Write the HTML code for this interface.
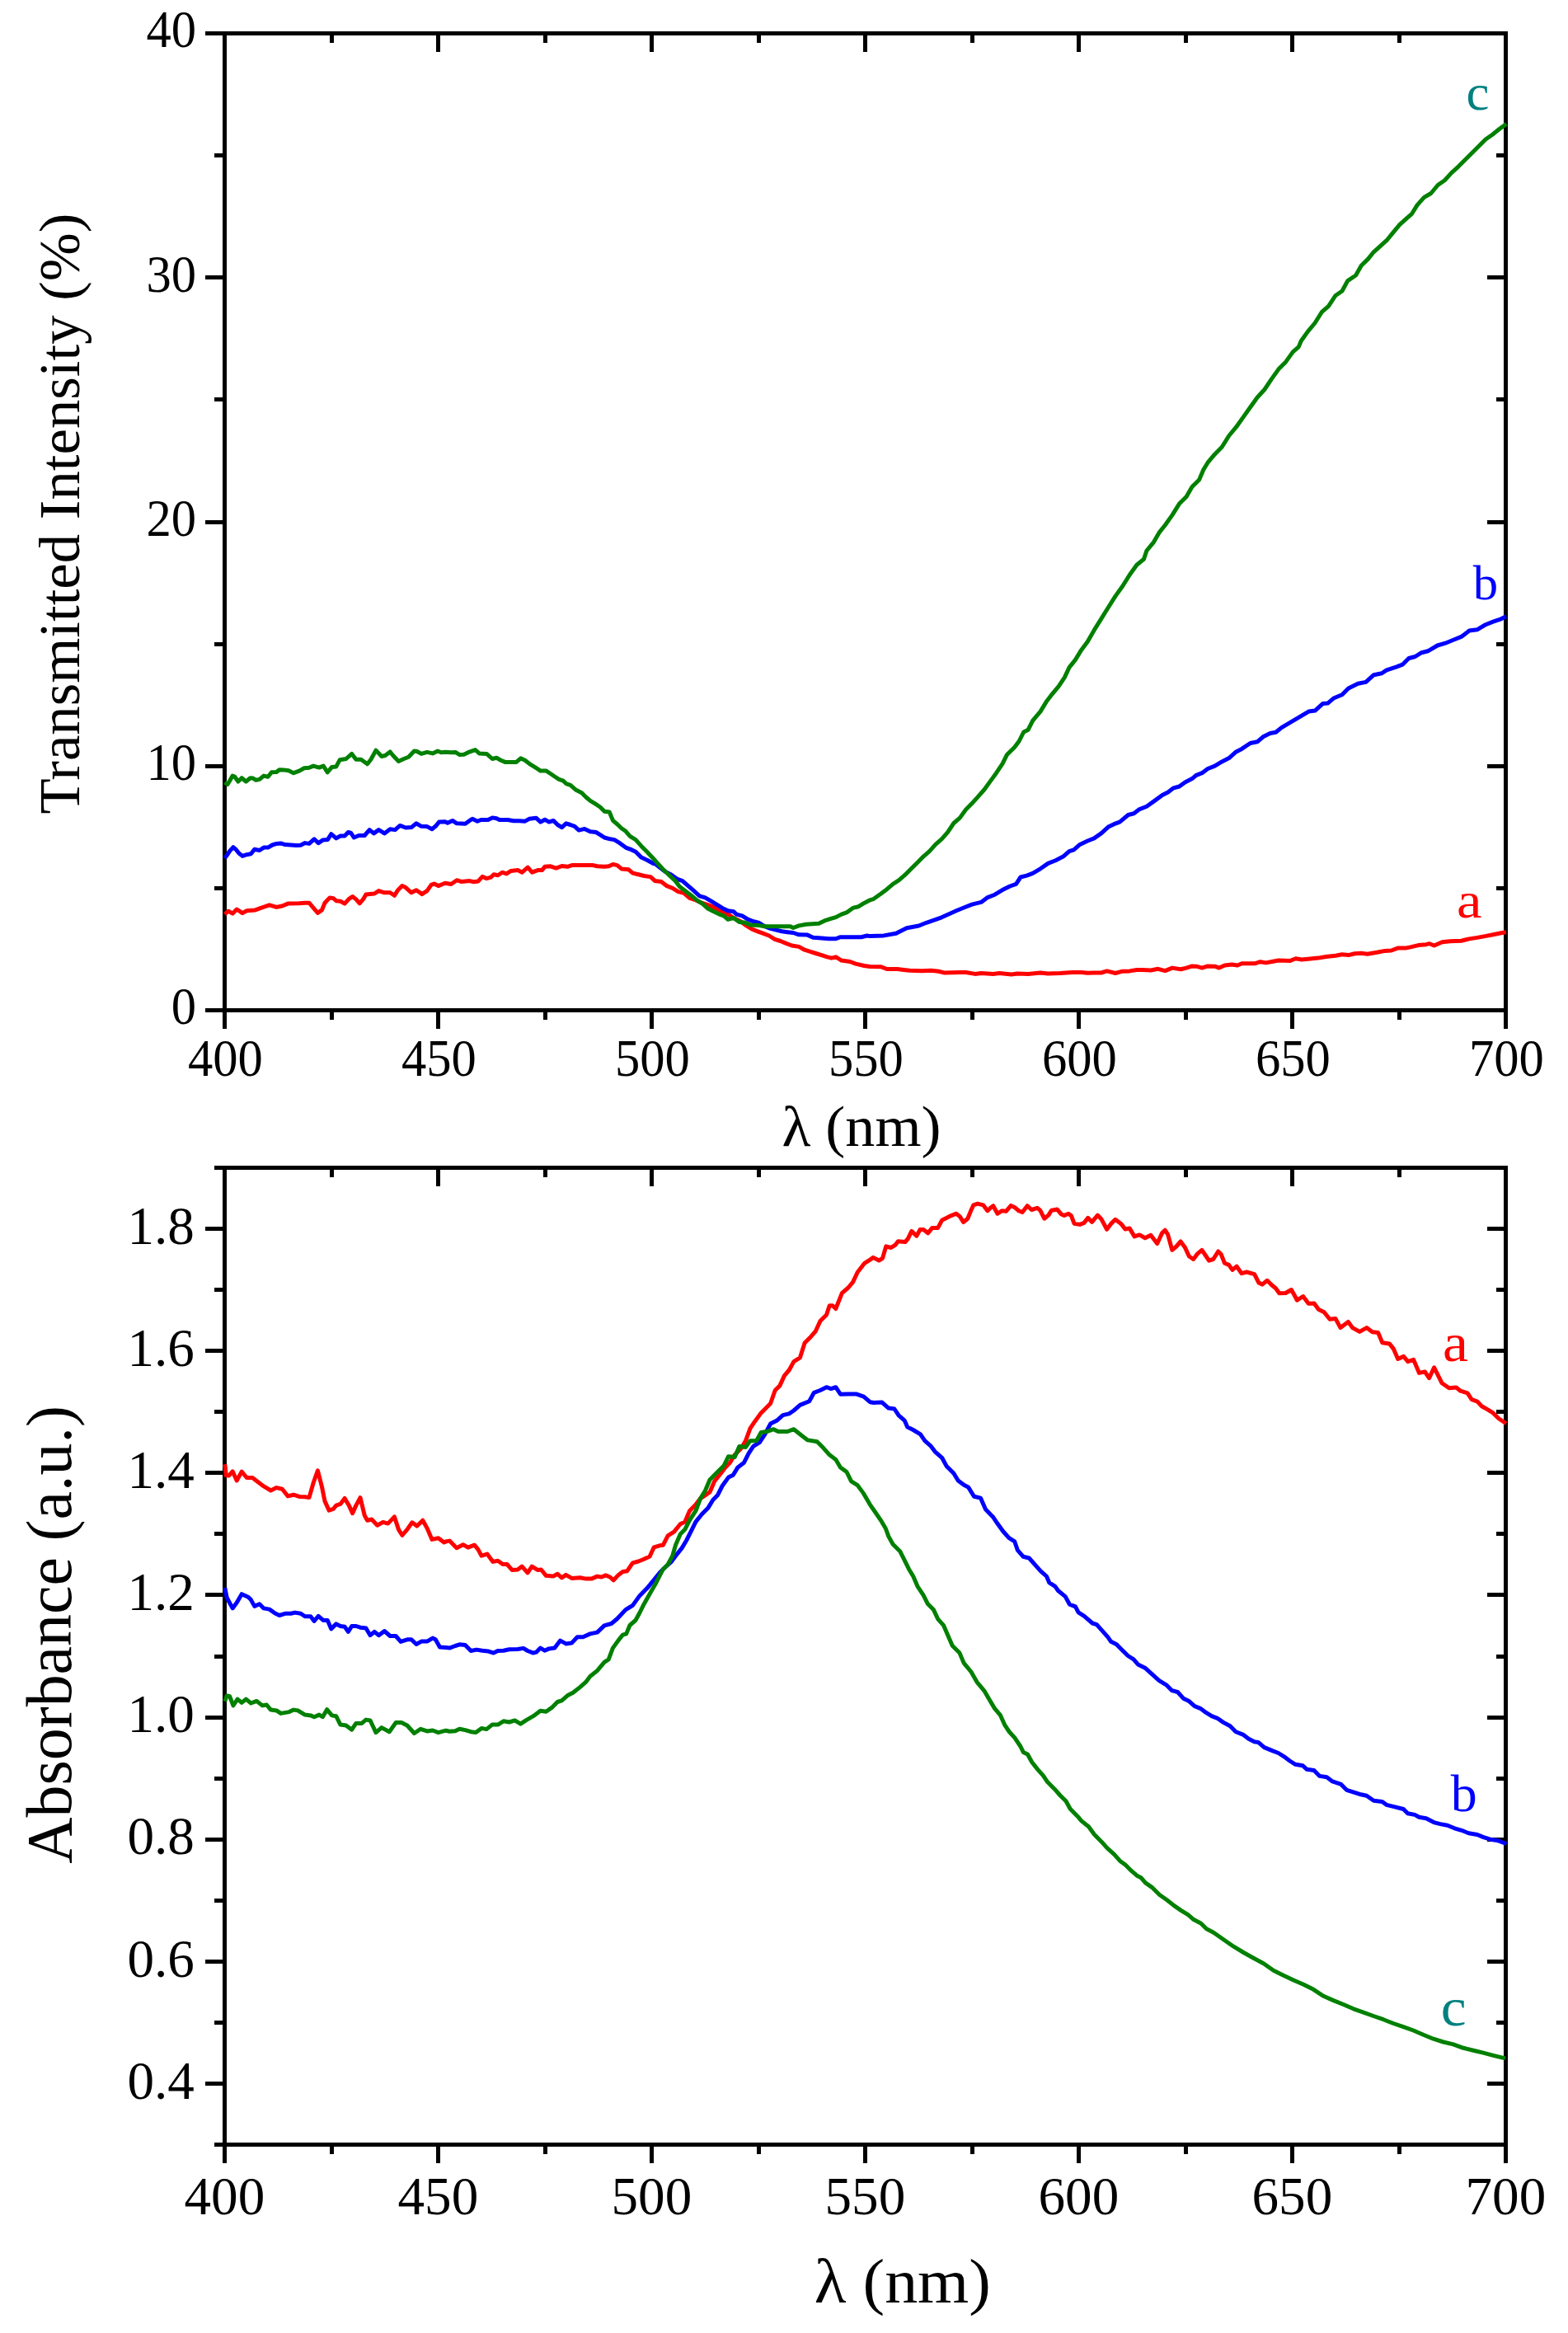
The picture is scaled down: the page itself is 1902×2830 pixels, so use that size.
<!DOCTYPE html>
<html><head><meta charset="utf-8"><title>Transmittance and absorbance spectra</title>
<style>html,body{margin:0;padding:0;background:#fff;}svg{display:block;}</style>
</head><body>
<svg width="1902" height="2830" viewBox="0 0 1902 2830" font-family="'Liberation Serif', 'Times New Roman', serif">
<g stroke-linecap="butt">
<rect x="272.5" y="40.5" width="1554.0" height="1185.0" fill="none" stroke="#000" stroke-width="5"/>
<line x1="272.50" y1="1225.50" x2="272.50" y2="1248.00" stroke="#000" stroke-width="5"/>
<line x1="272.50" y1="40.50" x2="272.50" y2="63.00" stroke="#000" stroke-width="5"/>
<line x1="402.50" y1="1225.50" x2="402.50" y2="1237.00" stroke="#000" stroke-width="5"/>
<line x1="402.50" y1="40.50" x2="402.50" y2="52.00" stroke="#000" stroke-width="5"/>
<line x1="531.50" y1="1225.50" x2="531.50" y2="1248.00" stroke="#000" stroke-width="5"/>
<line x1="531.50" y1="40.50" x2="531.50" y2="63.00" stroke="#000" stroke-width="5"/>
<line x1="661.50" y1="1225.50" x2="661.50" y2="1237.00" stroke="#000" stroke-width="5"/>
<line x1="661.50" y1="40.50" x2="661.50" y2="52.00" stroke="#000" stroke-width="5"/>
<line x1="790.50" y1="1225.50" x2="790.50" y2="1248.00" stroke="#000" stroke-width="5"/>
<line x1="790.50" y1="40.50" x2="790.50" y2="63.00" stroke="#000" stroke-width="5"/>
<line x1="920.50" y1="1225.50" x2="920.50" y2="1237.00" stroke="#000" stroke-width="5"/>
<line x1="920.50" y1="40.50" x2="920.50" y2="52.00" stroke="#000" stroke-width="5"/>
<line x1="1049.50" y1="1225.50" x2="1049.50" y2="1248.00" stroke="#000" stroke-width="5"/>
<line x1="1049.50" y1="40.50" x2="1049.50" y2="63.00" stroke="#000" stroke-width="5"/>
<line x1="1179.50" y1="1225.50" x2="1179.50" y2="1237.00" stroke="#000" stroke-width="5"/>
<line x1="1179.50" y1="40.50" x2="1179.50" y2="52.00" stroke="#000" stroke-width="5"/>
<line x1="1308.50" y1="1225.50" x2="1308.50" y2="1248.00" stroke="#000" stroke-width="5"/>
<line x1="1308.50" y1="40.50" x2="1308.50" y2="63.00" stroke="#000" stroke-width="5"/>
<line x1="1438.50" y1="1225.50" x2="1438.50" y2="1237.00" stroke="#000" stroke-width="5"/>
<line x1="1438.50" y1="40.50" x2="1438.50" y2="52.00" stroke="#000" stroke-width="5"/>
<line x1="1567.50" y1="1225.50" x2="1567.50" y2="1248.00" stroke="#000" stroke-width="5"/>
<line x1="1567.50" y1="40.50" x2="1567.50" y2="63.00" stroke="#000" stroke-width="5"/>
<line x1="1697.50" y1="1225.50" x2="1697.50" y2="1237.00" stroke="#000" stroke-width="5"/>
<line x1="1697.50" y1="40.50" x2="1697.50" y2="52.00" stroke="#000" stroke-width="5"/>
<line x1="1826.50" y1="1225.50" x2="1826.50" y2="1248.00" stroke="#000" stroke-width="5"/>
<line x1="1826.50" y1="40.50" x2="1826.50" y2="63.00" stroke="#000" stroke-width="5"/>
<line x1="249.00" y1="1225.50" x2="272.50" y2="1225.50" stroke="#000" stroke-width="5"/>
<line x1="1826.50" y1="1225.50" x2="1804.00" y2="1225.50" stroke="#000" stroke-width="5"/>
<line x1="260.00" y1="1077.50" x2="272.50" y2="1077.50" stroke="#000" stroke-width="5"/>
<line x1="1826.50" y1="1077.50" x2="1815.00" y2="1077.50" stroke="#000" stroke-width="5"/>
<line x1="249.00" y1="929.50" x2="272.50" y2="929.50" stroke="#000" stroke-width="5"/>
<line x1="1826.50" y1="929.50" x2="1804.00" y2="929.50" stroke="#000" stroke-width="5"/>
<line x1="260.00" y1="781.50" x2="272.50" y2="781.50" stroke="#000" stroke-width="5"/>
<line x1="1826.50" y1="781.50" x2="1815.00" y2="781.50" stroke="#000" stroke-width="5"/>
<line x1="249.00" y1="633.50" x2="272.50" y2="633.50" stroke="#000" stroke-width="5"/>
<line x1="1826.50" y1="633.50" x2="1804.00" y2="633.50" stroke="#000" stroke-width="5"/>
<line x1="260.00" y1="484.50" x2="272.50" y2="484.50" stroke="#000" stroke-width="5"/>
<line x1="1826.50" y1="484.50" x2="1815.00" y2="484.50" stroke="#000" stroke-width="5"/>
<line x1="249.00" y1="336.50" x2="272.50" y2="336.50" stroke="#000" stroke-width="5"/>
<line x1="1826.50" y1="336.50" x2="1804.00" y2="336.50" stroke="#000" stroke-width="5"/>
<line x1="260.00" y1="188.50" x2="272.50" y2="188.50" stroke="#000" stroke-width="5"/>
<line x1="1826.50" y1="188.50" x2="1815.00" y2="188.50" stroke="#000" stroke-width="5"/>
<line x1="249.00" y1="40.50" x2="272.50" y2="40.50" stroke="#000" stroke-width="5"/>
<line x1="1826.50" y1="40.50" x2="1804.00" y2="40.50" stroke="#000" stroke-width="5"/>
<rect x="272.5" y="1416.5" width="1554.0" height="1185.0" fill="none" stroke="#000" stroke-width="5"/>
<line x1="272.50" y1="2601.50" x2="272.50" y2="2624.00" stroke="#000" stroke-width="5"/>
<line x1="272.50" y1="1416.50" x2="272.50" y2="1439.00" stroke="#000" stroke-width="5"/>
<line x1="402.50" y1="2601.50" x2="402.50" y2="2613.00" stroke="#000" stroke-width="5"/>
<line x1="402.50" y1="1416.50" x2="402.50" y2="1428.00" stroke="#000" stroke-width="5"/>
<line x1="531.50" y1="2601.50" x2="531.50" y2="2624.00" stroke="#000" stroke-width="5"/>
<line x1="531.50" y1="1416.50" x2="531.50" y2="1439.00" stroke="#000" stroke-width="5"/>
<line x1="661.50" y1="2601.50" x2="661.50" y2="2613.00" stroke="#000" stroke-width="5"/>
<line x1="661.50" y1="1416.50" x2="661.50" y2="1428.00" stroke="#000" stroke-width="5"/>
<line x1="790.50" y1="2601.50" x2="790.50" y2="2624.00" stroke="#000" stroke-width="5"/>
<line x1="790.50" y1="1416.50" x2="790.50" y2="1439.00" stroke="#000" stroke-width="5"/>
<line x1="920.50" y1="2601.50" x2="920.50" y2="2613.00" stroke="#000" stroke-width="5"/>
<line x1="920.50" y1="1416.50" x2="920.50" y2="1428.00" stroke="#000" stroke-width="5"/>
<line x1="1049.50" y1="2601.50" x2="1049.50" y2="2624.00" stroke="#000" stroke-width="5"/>
<line x1="1049.50" y1="1416.50" x2="1049.50" y2="1439.00" stroke="#000" stroke-width="5"/>
<line x1="1179.50" y1="2601.50" x2="1179.50" y2="2613.00" stroke="#000" stroke-width="5"/>
<line x1="1179.50" y1="1416.50" x2="1179.50" y2="1428.00" stroke="#000" stroke-width="5"/>
<line x1="1308.50" y1="2601.50" x2="1308.50" y2="2624.00" stroke="#000" stroke-width="5"/>
<line x1="1308.50" y1="1416.50" x2="1308.50" y2="1439.00" stroke="#000" stroke-width="5"/>
<line x1="1438.50" y1="2601.50" x2="1438.50" y2="2613.00" stroke="#000" stroke-width="5"/>
<line x1="1438.50" y1="1416.50" x2="1438.50" y2="1428.00" stroke="#000" stroke-width="5"/>
<line x1="1567.50" y1="2601.50" x2="1567.50" y2="2624.00" stroke="#000" stroke-width="5"/>
<line x1="1567.50" y1="1416.50" x2="1567.50" y2="1439.00" stroke="#000" stroke-width="5"/>
<line x1="1697.50" y1="2601.50" x2="1697.50" y2="2613.00" stroke="#000" stroke-width="5"/>
<line x1="1697.50" y1="1416.50" x2="1697.50" y2="1428.00" stroke="#000" stroke-width="5"/>
<line x1="1826.50" y1="2601.50" x2="1826.50" y2="2624.00" stroke="#000" stroke-width="5"/>
<line x1="1826.50" y1="1416.50" x2="1826.50" y2="1439.00" stroke="#000" stroke-width="5"/>
<line x1="260.00" y1="2601.50" x2="272.50" y2="2601.50" stroke="#000" stroke-width="5"/>
<line x1="1826.50" y1="2601.50" x2="1815.00" y2="2601.50" stroke="#000" stroke-width="5"/>
<line x1="249.00" y1="2527.50" x2="272.50" y2="2527.50" stroke="#000" stroke-width="5"/>
<line x1="1826.50" y1="2527.50" x2="1804.00" y2="2527.50" stroke="#000" stroke-width="5"/>
<line x1="260.00" y1="2453.50" x2="272.50" y2="2453.50" stroke="#000" stroke-width="5"/>
<line x1="1826.50" y1="2453.50" x2="1815.00" y2="2453.50" stroke="#000" stroke-width="5"/>
<line x1="249.00" y1="2379.50" x2="272.50" y2="2379.50" stroke="#000" stroke-width="5"/>
<line x1="1826.50" y1="2379.50" x2="1804.00" y2="2379.50" stroke="#000" stroke-width="5"/>
<line x1="260.00" y1="2305.50" x2="272.50" y2="2305.50" stroke="#000" stroke-width="5"/>
<line x1="1826.50" y1="2305.50" x2="1815.00" y2="2305.50" stroke="#000" stroke-width="5"/>
<line x1="249.00" y1="2231.50" x2="272.50" y2="2231.50" stroke="#000" stroke-width="5"/>
<line x1="1826.50" y1="2231.50" x2="1804.00" y2="2231.50" stroke="#000" stroke-width="5"/>
<line x1="260.00" y1="2157.50" x2="272.50" y2="2157.50" stroke="#000" stroke-width="5"/>
<line x1="1826.50" y1="2157.50" x2="1815.00" y2="2157.50" stroke="#000" stroke-width="5"/>
<line x1="249.00" y1="2083.50" x2="272.50" y2="2083.50" stroke="#000" stroke-width="5"/>
<line x1="1826.50" y1="2083.50" x2="1804.00" y2="2083.50" stroke="#000" stroke-width="5"/>
<line x1="260.00" y1="2009.50" x2="272.50" y2="2009.50" stroke="#000" stroke-width="5"/>
<line x1="1826.50" y1="2009.50" x2="1815.00" y2="2009.50" stroke="#000" stroke-width="5"/>
<line x1="249.00" y1="1934.50" x2="272.50" y2="1934.50" stroke="#000" stroke-width="5"/>
<line x1="1826.50" y1="1934.50" x2="1804.00" y2="1934.50" stroke="#000" stroke-width="5"/>
<line x1="260.00" y1="1860.50" x2="272.50" y2="1860.50" stroke="#000" stroke-width="5"/>
<line x1="1826.50" y1="1860.50" x2="1815.00" y2="1860.50" stroke="#000" stroke-width="5"/>
<line x1="249.00" y1="1786.50" x2="272.50" y2="1786.50" stroke="#000" stroke-width="5"/>
<line x1="1826.50" y1="1786.50" x2="1804.00" y2="1786.50" stroke="#000" stroke-width="5"/>
<line x1="260.00" y1="1712.50" x2="272.50" y2="1712.50" stroke="#000" stroke-width="5"/>
<line x1="1826.50" y1="1712.50" x2="1815.00" y2="1712.50" stroke="#000" stroke-width="5"/>
<line x1="249.00" y1="1638.50" x2="272.50" y2="1638.50" stroke="#000" stroke-width="5"/>
<line x1="1826.50" y1="1638.50" x2="1804.00" y2="1638.50" stroke="#000" stroke-width="5"/>
<line x1="260.00" y1="1564.50" x2="272.50" y2="1564.50" stroke="#000" stroke-width="5"/>
<line x1="1826.50" y1="1564.50" x2="1815.00" y2="1564.50" stroke="#000" stroke-width="5"/>
<line x1="249.00" y1="1490.50" x2="272.50" y2="1490.50" stroke="#000" stroke-width="5"/>
<line x1="1826.50" y1="1490.50" x2="1804.00" y2="1490.50" stroke="#000" stroke-width="5"/>
<line x1="260.00" y1="1416.50" x2="272.50" y2="1416.50" stroke="#000" stroke-width="5"/>
<line x1="1826.50" y1="1416.50" x2="1815.00" y2="1416.50" stroke="#000" stroke-width="5"/>
</g>
<polyline points="272.6,1109.0 276.9,1105.2 282.1,1108.2 287.2,1103.0 294.1,1107.6 299.3,1104.7 309.6,1103.9 316.5,1101.3 326.8,1097.8 335.4,1100.4 342.3,1099.0 349.2,1096.1 363.0,1095.8 369.9,1095.2 375.0,1095.2 380.2,1101.3 385.4,1107.3 390.5,1103.9 394.0,1095.2 400.0,1088.9 404.3,1089.7 407.8,1092.7 412.9,1093.2 418.1,1096.1 423.3,1090.4 427.6,1087.5 431.9,1090.9 436.2,1095.8 440.5,1090.9 443.9,1084.9 454.2,1084.0 459.4,1080.6 466.3,1082.8 473.2,1082.8 478.4,1086.3 482.7,1079.7 487.8,1074.6 492.1,1076.6 499.0,1082.8 505.0,1079.7 511.9,1084.6 518.0,1080.6 523.1,1073.4 526.6,1072.0 531.7,1074.6 539.9,1071.3 547.2,1072.5 554.1,1067.7 559.3,1069.4 569.6,1068.6 574.8,1069.8 579.9,1069.1 585.1,1063.4 590.3,1065.6 595.4,1064.2 598.9,1060.8 604.0,1061.7 609.2,1058.2 614.4,1059.9 619.5,1056.5 628.2,1055.6 633.3,1058.2 640.2,1052.2 645.4,1058.2 652.3,1055.6 657.4,1055.6 660.9,1051.3 667.8,1050.8 674.6,1053.1 681.5,1050.5 688.4,1051.3 693.6,1049.6 702.2,1049.6 719.4,1049.6 724.6,1050.8 733.2,1051.3 738.4,1050.8 743.5,1048.4 748.7,1049.6 753.9,1053.9 762.5,1054.8 767.6,1059.1 774.5,1060.8 781.4,1062.5 789.1,1063.6 794.3,1068.4 802.1,1069.5 808.9,1074.7 815.8,1077.3 822.7,1081.6 829.6,1083.3 836.5,1089.3 843.4,1091.6 850.3,1095.0 857.2,1097.1 864.0,1099.7 870.9,1103.1 877.8,1106.2 884.7,1110.0 891.6,1114.3 898.5,1117.8 905.4,1122.9 912.3,1127.2 919.1,1129.8 926.0,1132.4 932.9,1135.0 939.8,1139.3 946.7,1141.5 953.6,1144.4 960.5,1147.0 969.1,1148.4 976.0,1152.2 982.9,1154.3 989.7,1156.5 996.6,1158.7 1003.5,1160.8 1008.7,1162.2 1013.9,1160.8 1020.7,1165.1 1031.1,1166.5 1038.0,1169.1 1048.3,1171.5 1055.4,1172.4 1068.4,1172.7 1075.8,1175.5 1088.7,1175.5 1096.1,1176.4 1103.5,1177.3 1118.2,1177.7 1129.3,1177.3 1138.5,1178.3 1145.8,1180.1 1164.3,1179.5 1171.6,1179.5 1182.7,1181.4 1190.1,1180.6 1204.8,1181.4 1212.2,1180.6 1226.9,1181.9 1234.3,1181.0 1247.2,1181.4 1262.0,1180.1 1271.2,1181.0 1285.9,1180.6 1300.7,1179.5 1311.7,1179.5 1319.3,1180.3 1327.2,1180.0 1335.8,1180.0 1342.7,1177.9 1353.0,1180.5 1361.7,1178.2 1370.3,1177.9 1378.9,1176.5 1385.8,1176.5 1396.1,1177.0 1404.7,1175.3 1413.3,1177.6 1421.9,1174.1 1432.3,1175.8 1439.1,1174.1 1446.0,1171.9 1451.2,1172.2 1458.1,1174.1 1465.0,1171.9 1473.6,1172.2 1478.8,1174.1 1485.6,1171.0 1494.2,1170.1 1501.1,1171.0 1506.3,1168.8 1521.8,1168.8 1528.7,1166.7 1535.6,1167.9 1544.2,1166.2 1551.1,1165.0 1564.8,1165.5 1571.7,1162.7 1578.9,1164.0 1589.3,1163.0 1598.9,1162.1 1608.6,1160.5 1620.2,1159.2 1627.9,1157.8 1635.6,1158.6 1643.3,1156.7 1651.0,1156.3 1658.7,1157.2 1670.3,1155.3 1679.9,1153.4 1687.7,1153.0 1695.4,1150.1 1705.0,1150.1 1710.8,1148.9 1720.5,1146.6 1730.1,1145.7 1734.0,1144.7 1739.7,1147.0 1749.4,1142.8 1759.0,1141.8 1772.5,1141.2 1782.2,1138.9 1791.8,1137.4 1801.5,1135.6 1811.1,1133.7 1820.8,1131.8 1826.9,1130.8" fill="none" stroke="#ff0000" stroke-width="5" stroke-linejoin="round"/>
<polyline points="272.6,1041.0 275.2,1037.6 278.6,1032.4 282.9,1027.7 286.4,1030.7 289.8,1035.0 294.1,1038.4 299.3,1036.7 304.4,1035.8 308.7,1030.2 314.8,1031.5 319.9,1028.1 325.1,1028.1 330.3,1025.0 335.4,1023.4 340.6,1022.9 345.8,1024.6 352.7,1025.0 359.5,1025.5 364.7,1025.2 369.9,1022.6 375.0,1023.4 381.1,1017.8 386.2,1022.6 391.4,1019.1 397.4,1018.6 401.7,1011.7 407.8,1016.9 412.9,1014.0 418.1,1014.0 422.4,1009.5 425.8,1010.5 429.3,1016.0 435.3,1013.5 442.2,1013.5 448.2,1006.6 453.4,1010.9 459.4,1006.6 466.3,1010.9 473.2,1005.7 479.2,1006.6 485.2,1001.4 492.1,1004.0 499.0,1003.6 505.0,998.8 511.1,1002.3 518.0,1002.6 524.0,1005.7 528.3,1002.3 532.6,997.1 539.9,996.7 542.9,998.3 548.9,995.4 554.1,998.8 564.4,999.2 569.6,995.4 573.0,993.3 579.1,996.2 583.4,994.5 592.0,994.5 597.2,991.9 602.3,992.8 605.8,994.5 616.1,994.5 623.0,995.7 629.9,995.7 636.8,996.2 641.9,993.3 650.5,992.3 655.7,997.1 660.9,994.2 666.0,997.1 671.2,995.4 676.4,1000.5 681.5,1003.6 686.7,998.8 691.9,1000.5 697.0,1002.3 702.2,1007.1 709.1,1005.4 716.0,1008.8 722.9,1009.5 728.0,1012.6 733.2,1016.0 740.1,1017.8 745.2,1018.6 752.1,1022.9 759.0,1028.1 765.9,1030.7 771.1,1033.3 778.0,1040.1 784.8,1043.2 792.6,1047.5 795.2,1048.0 800.3,1052.3 807.2,1057.5 814.1,1060.9 821.0,1066.1 827.9,1068.7 834.8,1074.7 841.7,1080.7 848.5,1086.8 855.4,1088.8 862.3,1092.8 869.2,1097.1 876.1,1101.4 883.0,1104.8 889.9,1105.7 893.3,1109.1 900.2,1110.9 907.1,1115.2 914.0,1117.8 920.9,1119.5 926.0,1122.9 934.6,1126.4 941.5,1128.1 948.4,1129.8 955.3,1130.7 962.2,1131.5 969.1,1133.8 979.4,1134.1 986.3,1137.2 996.6,1138.1 1005.2,1138.8 1013.9,1138.8 1019.0,1136.7 1031.1,1136.7 1044.8,1136.7 1051.7,1135.0 1055.4,1135.6 1072.1,1134.9 1086.9,1132.2 1099.8,1125.7 1114.5,1123.0 1123.7,1119.3 1142.2,1112.8 1160.6,1104.5 1169.8,1100.8 1179.0,1097.2 1190.1,1094.4 1197.4,1088.9 1206.7,1085.2 1215.9,1079.6 1225.1,1075.0 1232.5,1072.3 1238.0,1064.0 1245.4,1062.1 1252.7,1059.4 1262.0,1053.8 1271.2,1047.4 1280.4,1043.7 1289.6,1039.1 1297.0,1032.6 1302.5,1030.8 1309.9,1024.4 1319.3,1020.0 1327.2,1016.9 1335.8,1010.9 1344.4,1003.1 1351.3,999.7 1358.2,997.1 1368.5,988.5 1375.4,986.8 1382.3,981.6 1390.9,978.2 1399.5,972.1 1409.9,964.4 1416.8,960.9 1423.6,955.8 1430.5,954.0 1437.4,948.9 1446.0,944.6 1451.2,940.3 1458.1,937.7 1465.0,932.5 1473.6,929.1 1482.2,923.9 1490.8,919.6 1499.4,911.9 1506.3,908.4 1516.6,901.5 1525.2,899.8 1532.1,893.8 1540.7,889.5 1547.6,888.3 1554.5,882.6 1577.7,868.9 1587.4,863.1 1595.1,862.1 1604.7,853.4 1610.5,853.1 1618.2,846.7 1627.9,842.8 1635.6,835.1 1647.2,829.3 1656.8,827.4 1666.4,818.7 1676.1,816.8 1681.9,812.9 1693.4,809.1 1701.2,806.2 1708.9,798.5 1716.6,796.5 1724.3,791.7 1732.0,789.8 1743.6,783.0 1753.2,780.2 1762.9,776.3 1772.5,772.4 1782.2,765.1 1791.8,763.8 1801.5,758.0 1811.1,754.1 1820.8,750.8 1826.9,747.7" fill="none" stroke="#0000ff" stroke-width="5" stroke-linejoin="round"/>
<polyline points="272.6,948.9 276.0,951.5 278.6,947.2 282.1,941.1 284.6,942.0 288.9,948.0 293.2,943.7 298.4,948.0 303.6,943.7 307.0,944.1 310.5,946.3 314.8,945.4 319.9,941.1 325.1,942.3 329.4,936.8 335.4,936.5 338.9,933.7 344.0,933.9 350.1,934.8 356.1,937.7 363.0,935.1 369.0,931.7 375.0,931.3 380.2,929.1 387.1,931.1 392.3,929.1 397.1,936.8 402.6,930.5 407.8,929.9 412.1,921.8 419.8,920.5 426.7,914.4 431.9,921.3 437.9,921.3 445.6,926.8 449.9,921.3 456.0,910.1 462.9,917.5 467.2,916.5 473.2,912.0 476.6,916.2 483.5,923.4 488.7,921.0 495.6,918.2 502.5,911.0 505.9,911.5 511.1,914.4 518.0,912.4 524.8,913.9 530.9,911.0 535.2,912.7 539.9,912.3 547.2,912.7 552.4,912.4 557.6,915.6 562.7,915.3 567.9,912.7 576.5,909.6 581.7,914.1 590.3,914.4 597.2,920.5 602.3,919.3 607.5,922.2 612.7,924.4 623.0,924.4 626.4,924.4 631.6,919.9 636.8,922.2 643.6,927.4 650.5,931.7 655.7,935.1 662.6,935.1 667.8,938.5 672.9,942.0 678.1,945.4 683.3,947.2 686.7,950.6 691.9,952.3 698.8,958.3 705.6,961.8 710.8,967.0 716.0,971.3 721.1,974.4 728.0,979.0 733.2,984.2 739.2,985.0 743.5,995.4 748.7,999.7 753.9,1004.8 759.0,1008.3 764.2,1014.3 771.1,1018.6 778.0,1026.4 784.8,1033.3 792.6,1041.5 796.9,1046.3 803.8,1054.0 812.4,1062.3 819.3,1068.7 824.4,1075.6 831.3,1080.7 838.2,1085.9 845.1,1091.9 852.0,1096.2 858.9,1102.3 865.8,1105.7 872.7,1109.1 877.8,1110.9 883.0,1115.2 889.9,1113.5 896.8,1118.6 903.6,1119.1 910.5,1122.1 920.9,1122.6 927.8,1123.8 938.1,1123.8 958.8,1123.8 962.2,1125.5 969.1,1122.9 977.7,1121.2 993.2,1120.3 1000.1,1116.9 1007.0,1114.7 1013.9,1112.6 1020.7,1109.1 1027.6,1106.6 1034.5,1101.4 1041.4,1099.7 1048.3,1095.4 1055.4,1091.8 1059.2,1090.7 1068.4,1084.3 1075.8,1078.7 1083.2,1072.3 1090.5,1067.7 1097.9,1061.2 1105.3,1053.8 1112.7,1046.5 1120.0,1039.1 1127.4,1032.6 1134.8,1024.4 1142.2,1017.9 1149.5,1009.6 1156.9,998.5 1164.3,992.1 1171.6,982.0 1179.0,974.6 1186.4,966.3 1193.8,958.0 1201.1,947.9 1208.5,937.7 1215.9,926.7 1221.4,915.6 1230.6,906.4 1236.2,899.0 1241.7,888.0 1247.2,885.2 1252.7,874.1 1262.0,863.1 1269.3,851.1 1274.9,843.7 1284.1,832.7 1291.4,821.6 1297.0,809.6 1304.4,800.4 1311.7,788.4 1319.3,778.2 1327.2,764.4 1335.8,750.6 1344.4,736.8 1353.0,723.1 1361.7,711.0 1370.3,697.2 1378.9,685.2 1387.5,678.3 1390.9,668.0 1399.5,657.6 1406.4,645.6 1413.3,637.0 1421.9,624.9 1430.5,611.1 1439.1,602.5 1446.0,590.5 1454.6,581.9 1459.8,569.8 1465.0,561.2 1473.6,550.9 1482.2,542.3 1490.8,528.5 1499.4,518.2 1508.0,506.1 1516.6,494.0 1525.2,482.0 1533.9,472.5 1542.5,459.6 1551.1,447.6 1559.7,438.9 1568.3,426.9 1575.2,420.9 1578.3,413.5 1586.6,401.9 1594.9,392.0 1603.2,378.7 1611.5,371.3 1619.7,358.8 1628.0,353.0 1634.7,340.6 1644.6,334.0 1651.2,322.3 1659.5,314.1 1666.2,305.8 1674.5,298.3 1682.8,290.8 1689.4,282.6 1697.7,272.6 1706.0,265.1 1712.6,259.3 1719.2,248.6 1727.5,239.4 1735.8,234.5 1744.1,224.5 1752.4,218.7 1760.7,209.6 1769.0,202.1 1777.3,193.8 1785.6,185.5 1793.9,177.3 1802.1,169.0 1810.4,163.2 1818.7,156.5 1827.3,150.2" fill="none" stroke="#008000" stroke-width="5" stroke-linejoin="round"/>
<polyline points="272.8,1776.2 274.3,1789.9 277.7,1789.9 282.1,1784.8 287.2,1796.0 293.2,1785.1 299.3,1792.5 306.2,1792.5 313.0,1797.7 319.9,1802.9 328.5,1808.0 335.4,1804.6 342.3,1806.3 349.2,1814.9 356.1,1813.2 363.0,1815.4 369.9,1815.8 375.0,1816.6 380.2,1798.5 385.4,1783.9 390.5,1803.7 394.0,1820.9 399.1,1832.1 404.3,1830.4 407.8,1826.1 412.9,1824.4 418.1,1817.5 423.3,1826.1 427.6,1835.6 431.9,1826.1 437.0,1816.6 442.2,1838.2 445.6,1844.2 450.8,1843.0 457.7,1850.2 464.6,1846.4 470.6,1848.1 478.4,1839.9 483.5,1855.4 487.8,1862.3 493.9,1855.4 499.9,1846.8 505.9,1851.1 512.8,1844.2 518.0,1853.6 524.0,1867.4 531.7,1865.7 538.6,1870.9 541.9,1869.6 545.3,1869.1 553.9,1877.7 561.7,1873.7 567.7,1877.2 575.5,1874.2 579.8,1879.4 584.1,1887.2 591.0,1885.1 597.9,1894.4 603.9,1893.2 609.9,1897.5 615.1,1897.5 621.1,1904.4 628.0,1904.0 633.2,1900.1 640.0,1907.8 645.2,1900.1 652.1,1904.4 656.4,1904.0 662.4,1911.3 671.0,1912.1 676.2,1909.2 681.4,1913.8 686.5,1910.4 693.4,1914.4 703.8,1913.8 710.6,1915.1 717.5,1915.1 724.4,1912.1 729.6,1913.0 734.7,1910.9 739.9,1913.0 744.2,1916.8 750.2,1910.4 755.4,1906.4 760.6,1905.8 767.5,1895.8 774.3,1894.0 779.5,1892.0 788.1,1888.0 793.3,1876.8 800.2,1874.8 804.4,1874.2 810.1,1862.9 817.6,1858.1 825.2,1848.7 830.8,1845.9 836.5,1832.7 844.0,1825.1 849.7,1817.6 855.4,1813.8 861.0,1810.0 866.7,1796.8 874.2,1787.4 879.9,1779.9 885.5,1774.2 891.2,1764.8 898.7,1757.2 904.4,1747.8 910.0,1732.7 915.7,1724.2 923.2,1713.9 928.9,1708.2 934.6,1702.5 940.2,1686.5 945.9,1680.9 951.5,1668.6 957.2,1662.0 962.9,1651.6 970.4,1646.9 976.1,1629.0 983.6,1621.4 989.3,1614.8 994.9,1602.6 1002.5,1595.0 1006.2,1583.7 1010.0,1583.7 1013.8,1587.5 1021.3,1568.6 1028.9,1562.0 1034.5,1555.4 1040.2,1543.2 1048.7,1532.3 1055.3,1528.1 1059.2,1525.4 1066.2,1529.0 1070.5,1526.4 1074.8,1511.8 1080.8,1513.5 1086.0,1510.1 1089.4,1505.8 1098.0,1506.6 1101.5,1502.3 1105.8,1493.4 1111.8,1499.2 1116.1,1491.6 1120.4,1491.6 1125.6,1495.8 1130.8,1489.4 1137.7,1489.4 1142.8,1479.9 1148.0,1477.4 1153.2,1474.8 1160.0,1472.2 1164.3,1475.6 1168.6,1482.5 1173.8,1478.2 1177.3,1469.6 1180.7,1461.9 1185.9,1460.1 1192.8,1461.9 1197.9,1468.7 1201.4,1465.3 1204.8,1462.7 1210.0,1472.2 1215.1,1468.7 1220.3,1469.3 1226.3,1462.4 1230.6,1464.4 1235.8,1468.7 1240.1,1470.5 1246.1,1462.7 1251.3,1467.5 1258.2,1465.3 1261.6,1467.9 1266.8,1478.2 1272.0,1473.9 1275.4,1468.2 1282.3,1467.0 1287.5,1473.0 1290.9,1474.4 1296.1,1472.2 1299.5,1474.8 1303.0,1484.2 1309.8,1485.4 1315.0,1483.4 1319.7,1477.3 1324.5,1482.4 1331.4,1474.1 1335.7,1478.4 1342.6,1491.3 1347.7,1484.4 1352.9,1479.3 1359.8,1484.4 1364.9,1491.0 1370.1,1489.9 1376.1,1499.9 1382.2,1497.9 1389.0,1501.7 1395.9,1498.2 1403.7,1508.5 1409.7,1495.6 1413.2,1492.2 1416.6,1497.4 1421.8,1516.3 1426.9,1512.0 1432.1,1506.0 1437.3,1512.9 1442.4,1524.0 1447.6,1527.5 1452.8,1520.6 1457.9,1516.3 1463.1,1524.0 1466.5,1529.2 1471.7,1527.5 1477.7,1518.0 1481.2,1521.5 1485.5,1532.3 1490.6,1534.4 1494.9,1540.4 1500.1,1536.1 1506.1,1544.7 1512.2,1543.0 1521.6,1545.6 1526.8,1555.9 1531.1,1558.1 1537.1,1553.3 1542.3,1558.5 1547.5,1562.8 1551.8,1568.8 1559.5,1568.5 1566.4,1564.5 1569.8,1570.5 1573.4,1577.2 1580.7,1572.5 1587.2,1581.3 1594.1,1581.0 1599.3,1588.2 1606.2,1591.7 1613.0,1600.3 1619.9,1599.4 1626.0,1610.6 1635.4,1603.4 1640.6,1610.6 1649.2,1615.4 1657.8,1610.6 1664.7,1615.8 1671.6,1616.6 1676.8,1628.7 1685.4,1629.9 1690.5,1636.4 1695.7,1648.5 1702.6,1645.4 1707.8,1651.6 1714.6,1649.3 1721.5,1665.4 1728.4,1664.0 1733.6,1671.7 1739.6,1658.8 1743.9,1667.4 1749.1,1677.8 1757.7,1683.8 1766.3,1682.9 1771.5,1687.2 1780.1,1689.8 1785.2,1697.6 1792.1,1700.1 1797.3,1705.7 1804.2,1709.6 1811.1,1713.9 1818.0,1720.8 1826.9,1726.8" fill="none" stroke="#ff0000" stroke-width="5" stroke-linejoin="round"/>
<polyline points="272.8,1926.0 275.2,1938.0 282.1,1950.9 287.2,1944.0 293.2,1933.7 301.0,1937.2 304.4,1940.6 308.7,1948.4 314.8,1945.8 319.9,1950.9 326.8,1952.1 333.7,1957.0 338.9,1959.5 345.8,1957.3 352.7,1957.3 357.8,1956.1 364.7,1957.3 369.9,1960.8 376.8,1960.8 381.1,1966.4 386.2,1960.4 392.3,1965.6 397.4,1965.6 401.7,1975.9 407.8,1969.9 412.9,1972.5 418.1,1973.3 422.4,1979.3 426.7,1972.5 431.9,1972.5 437.0,1974.2 443.9,1975.0 449.1,1983.7 454.2,1979.3 459.4,1983.7 466.3,1978.5 473.2,1984.5 480.1,1984.5 486.1,1991.4 493.9,1988.8 499.0,1988.8 505.0,1994.5 511.1,1991.1 518.0,1991.1 524.8,1987.1 528.3,1988.8 533.5,1997.9 540.9,1998.5 545.3,1999.1 552.2,1996.5 557.4,1994.8 564.3,1995.6 571.2,2002.5 578.0,2001.1 584.9,2002.2 591.8,2002.9 598.7,2005.1 603.9,2002.5 610.8,2002.2 617.7,2000.8 628.0,2000.5 634.9,1999.4 640.0,2002.5 646.9,2005.1 650.4,2004.2 655.5,1999.1 660.7,2002.2 665.9,1999.9 672.8,1999.1 679.6,1990.1 686.5,1993.9 693.4,1993.1 700.3,1985.7 707.2,1985.7 715.8,1981.9 724.4,1980.1 733.0,1971.9 741.6,1969.5 748.5,1963.8 758.9,1952.6 767.5,1947.4 776.1,1935.4 784.7,1926.8 793.3,1916.4 800.2,1907.8 805.4,1902.5 813.9,1894.9 819.5,1887.4 827.1,1877.9 832.7,1868.5 838.4,1857.2 844.0,1845.9 851.6,1836.5 859.1,1828.9 864.8,1819.5 870.4,1813.8 876.1,1802.5 883.6,1792.1 889.3,1789.3 895.0,1779.9 902.5,1774.2 908.2,1762.9 913.8,1754.4 921.4,1749.7 927.0,1741.2 934.6,1727.1 942.1,1723.3 949.7,1716.7 957.2,1714.8 962.9,1711.0 970.4,1704.4 981.7,1699.7 987.4,1689.3 994.9,1686.5 1002.5,1682.7 1008.1,1684.6 1013.8,1682.7 1019.4,1691.2 1028.9,1690.9 1038.3,1690.9 1047.7,1694.1 1055.3,1700.7 1059.7,1701.5 1069.9,1701.1 1077.8,1708.1 1084.9,1709.0 1090.1,1716.9 1097.2,1723.1 1100.7,1731.0 1107.7,1734.5 1116.5,1739.8 1121.8,1747.7 1128.8,1753.8 1134.1,1760.8 1142.9,1768.7 1148.1,1778.4 1156.9,1787.2 1162.2,1796.0 1169.2,1801.3 1174.5,1803.9 1181.5,1815.3 1189.4,1817.1 1195.6,1831.1 1204.4,1839.9 1209.7,1847.8 1216.7,1857.5 1223.7,1865.4 1230.7,1869.8 1234.3,1880.3 1241.3,1888.3 1248.3,1890.0 1255.3,1897.9 1262.4,1905.8 1269.4,1912.0 1272.9,1919.9 1279.9,1924.3 1283.5,1929.5 1292.2,1936.6 1297.5,1946.2 1304.5,1948.9 1308.1,1955.9 1315.1,1960.3 1325.1,1969.0 1330.3,1970.7 1337.2,1978.4 1344.1,1986.2 1347.6,1991.3 1354.4,1994.8 1361.3,2001.7 1368.2,2008.5 1375.1,2012.9 1380.3,2018.9 1388.9,2023.2 1397.5,2030.9 1406.1,2038.7 1414.7,2043.8 1421.6,2050.7 1428.5,2052.5 1435.4,2060.2 1442.3,2063.6 1449.1,2069.7 1456.0,2072.3 1462.9,2077.4 1469.8,2081.7 1476.7,2084.3 1483.6,2089.1 1492.2,2093.8 1499.1,2100.7 1507.7,2104.1 1514.6,2109.3 1521.5,2112.7 1526.6,2113.6 1533.5,2119.6 1543.9,2123.9 1550.7,2126.5 1557.6,2130.8 1564.5,2136.0 1571.4,2140.3 1580.1,2141.7 1585.3,2146.3 1593.9,2147.5 1600.8,2154.4 1609.4,2155.8 1616.3,2160.9 1626.7,2164.4 1633.5,2171.3 1643.9,2174.7 1650.8,2176.8 1657.7,2178.2 1666.3,2184.2 1676.6,2185.4 1681.8,2189.3 1692.1,2191.9 1702.4,2194.5 1707.6,2199.7 1716.2,2201.4 1721.4,2204.3 1730.0,2205.7 1740.3,2210.9 1747.2,2212.6 1755.8,2214.3 1764.4,2217.8 1773.0,2220.3 1781.6,2223.8 1792.0,2225.5 1798.9,2228.4 1807.5,2231.2 1816.1,2232.4 1823.0,2235.0 1827.3,2236.7" fill="none" stroke="#0000ff" stroke-width="5" stroke-linejoin="round"/>
<polyline points="272.8,2063.7 275.2,2056.8 278.6,2057.7 282.9,2068.9 288.1,2061.1 293.2,2065.4 298.4,2061.1 304.4,2066.0 311.3,2063.4 318.2,2068.9 323.4,2068.0 328.5,2074.1 335.4,2074.9 340.6,2078.4 350.9,2076.6 356.1,2074.1 361.3,2074.9 369.9,2080.1 376.8,2080.9 381.1,2082.7 387.1,2080.1 391.4,2082.7 396.6,2073.7 402.6,2080.9 407.8,2081.8 412.9,2092.1 419.8,2093.0 426.7,2098.2 431.9,2090.4 438.8,2090.4 443.9,2086.1 449.1,2087.0 456.0,2101.6 462.9,2095.6 472.3,2100.7 480.1,2089.6 487.0,2089.6 493.9,2093.0 502.5,2102.5 510.2,2097.3 518.0,2099.9 524.8,2099.0 531.7,2101.6 540.9,2099.2 545.3,2100.3 552.2,2099.8 557.4,2097.2 564.3,2098.6 571.2,2100.7 577.2,2101.5 584.1,2096.4 590.1,2097.6 597.0,2092.1 603.9,2092.1 610.8,2087.8 617.7,2089.0 624.5,2086.9 631.4,2091.2 638.3,2086.6 646.9,2081.7 655.5,2075.2 662.4,2076.2 669.3,2071.4 676.2,2064.5 681.4,2062.8 688.3,2056.8 695.1,2053.3 703.8,2046.4 710.6,2040.4 715.8,2033.5 724.4,2026.6 733.0,2016.3 738.2,2012.9 743.4,1999.1 750.2,1989.6 755.4,1983.2 759.7,1981.9 764.0,1971.5 770.9,1965.5 776.1,1956.0 781.2,1945.7 788.1,1933.6 795.0,1921.6 800.2,1911.3 804.4,1903.4 810.1,1897.7 815.7,1887.4 819.5,1874.2 825.2,1861.0 830.8,1855.3 836.5,1844.0 844.0,1832.7 849.7,1817.6 855.4,1808.2 861.0,1795.0 870.4,1785.5 878.0,1778.0 883.6,1766.7 891.2,1767.6 896.8,1754.4 904.4,1755.4 910.0,1747.8 917.6,1747.8 923.2,1737.4 930.8,1736.5 938.3,1733.7 944.0,1736.5 955.3,1736.5 962.9,1733.7 972.3,1741.2 979.8,1746.9 991.1,1748.8 998.7,1756.3 1006.2,1764.8 1013.8,1770.4 1019.4,1779.9 1027.0,1785.5 1032.6,1796.8 1040.2,1801.6 1047.7,1811.9 1055.3,1825.1 1060.8,1833.0 1069.1,1845.2 1074.3,1854.0 1077.8,1863.6 1083.1,1873.3 1091.9,1882.1 1097.2,1892.6 1102.4,1903.2 1107.7,1912.0 1113.0,1924.3 1120.0,1934.8 1125.3,1945.4 1132.3,1952.4 1137.6,1963.8 1144.6,1971.7 1149.9,1984.0 1155.2,1996.3 1164.0,2005.1 1169.2,2017.4 1178.0,2028.0 1185.0,2040.3 1193.8,2050.8 1200.9,2063.1 1206.5,2072.4 1213.5,2080.7 1218.9,2092.7 1224.1,2100.5 1231.0,2108.2 1237.9,2118.5 1241.3,2125.4 1246.5,2128.0 1251.7,2137.5 1258.5,2146.1 1265.4,2153.8 1270.6,2161.6 1279.2,2170.2 1286.1,2178.0 1293.0,2184.8 1298.2,2194.3 1306.8,2202.9 1311.9,2208.9 1320.5,2215.8 1327.4,2225.3 1336.0,2233.9 1342.9,2241.7 1351.5,2249.4 1358.4,2257.2 1365.3,2262.3 1372.2,2269.2 1379.1,2275.2 1384.2,2277.8 1389.4,2283.9 1398.0,2289.9 1406.6,2298.5 1415.2,2304.5 1423.9,2311.4 1432.5,2317.4 1441.1,2322.6 1448.0,2328.6 1456.6,2332.9 1463.5,2339.8 1472.1,2344.2 1484.2,2352.7 1496.4,2361.2 1508.5,2368.5 1520.6,2375.3 1532.7,2381.8 1544.8,2390.3 1556.9,2396.3 1569.1,2401.9 1581.2,2407.2 1593.3,2413.3 1605.4,2421.3 1617.5,2426.6 1629.6,2431.5 1641.8,2436.8 1653.9,2441.2 1666.0,2445.5 1678.1,2449.7 1690.2,2454.5 1702.3,2458.6 1714.5,2463.0 1726.6,2468.3 1738.7,2473.2 1750.8,2477.0 1762.9,2479.9 1775.1,2484.3 1787.2,2487.2 1799.3,2490.1 1811.4,2493.3 1825.9,2496.9" fill="none" stroke="#008000" stroke-width="5" stroke-linejoin="round"/>
<text transform="translate(273.30,1304.86) scale(1.0095,1.0401)" font-size="60" text-anchor="middle">400</text>
<text transform="translate(532.30,1304.86) scale(1.0095,1.0401)" font-size="60" text-anchor="middle">450</text>
<text transform="translate(791.30,1304.86) scale(1.0095,1.0401)" font-size="60" text-anchor="middle">500</text>
<text transform="translate(1050.30,1304.86) scale(1.0095,1.0401)" font-size="60" text-anchor="middle">550</text>
<text transform="translate(1309.30,1304.86) scale(1.0095,1.0401)" font-size="60" text-anchor="middle">600</text>
<text transform="translate(1568.30,1304.86) scale(1.0095,1.0401)" font-size="60" text-anchor="middle">650</text>
<text transform="translate(1827.30,1304.86) scale(1.0095,1.0401)" font-size="60" text-anchor="middle">700</text>
<text transform="translate(238.13,1242.36) scale(1.0095,1.0401)" font-size="60" text-anchor="end">0</text>
<text transform="translate(238.13,946.11) scale(1.0095,1.0401)" font-size="60" text-anchor="end">10</text>
<text transform="translate(238.13,649.86) scale(1.0095,1.0401)" font-size="60" text-anchor="end">20</text>
<text transform="translate(238.13,353.61) scale(1.0095,1.0401)" font-size="60" text-anchor="end">30</text>
<text transform="translate(238.13,57.36) scale(1.0095,1.0401)" font-size="60" text-anchor="end">40</text>
<text transform="translate(272.35,2686.00) scale(1.0014,1.0000)" font-size="65" text-anchor="middle">400</text>
<text transform="translate(531.35,2686.00) scale(1.0014,1.0000)" font-size="65" text-anchor="middle">450</text>
<text transform="translate(790.35,2686.00) scale(1.0014,1.0000)" font-size="65" text-anchor="middle">500</text>
<text transform="translate(1049.35,2686.00) scale(1.0014,1.0000)" font-size="65" text-anchor="middle">550</text>
<text transform="translate(1308.35,2686.00) scale(1.0014,1.0000)" font-size="65" text-anchor="middle">600</text>
<text transform="translate(1567.35,2686.00) scale(1.0014,1.0000)" font-size="65" text-anchor="middle">650</text>
<text transform="translate(1826.35,2686.00) scale(1.0014,1.0000)" font-size="65" text-anchor="middle">700</text>
<text transform="translate(235.79,2545.74) scale(1.0014,1.0000)" font-size="65" text-anchor="end">0.4</text>
<text transform="translate(235.79,2397.61) scale(1.0014,1.0000)" font-size="65" text-anchor="end">0.6</text>
<text transform="translate(235.79,2249.49) scale(1.0014,1.0000)" font-size="65" text-anchor="end">0.8</text>
<text transform="translate(235.79,2101.36) scale(1.0014,1.0000)" font-size="65" text-anchor="end">1.0</text>
<text transform="translate(235.79,1953.24) scale(1.0014,1.0000)" font-size="65" text-anchor="end">1.2</text>
<text transform="translate(235.79,1805.11) scale(1.0014,1.0000)" font-size="65" text-anchor="end">1.4</text>
<text transform="translate(235.79,1656.99) scale(1.0014,1.0000)" font-size="65" text-anchor="end">1.6</text>
<text transform="translate(235.79,1508.86) scale(1.0014,1.0000)" font-size="65" text-anchor="end">1.8</text>
<text transform="translate(1044.95,1390.00) scale(1.0016,0.9783)" font-size="72" text-anchor="middle">λ (nm)</text>
<text transform="translate(1094.85,2792.99) scale(0.9996,0.9544)" font-size="80" text-anchor="middle">λ (nm)</text>
<text transform="translate(96.38,623.00) rotate(-90) scale(1.0000,0.9993)" font-size="70.8" text-anchor="middle">Transmitted Intensity (%)</text>
<text transform="translate(86.43,1982.90) rotate(-90) scale(1.0007,0.9951)" font-size="77.8" text-anchor="middle">Absorbance (a.u.)</text>
<text transform="translate(1792.50,132.62) scale(1.0000,0.9667)" font-size="63" text-anchor="middle" fill="#008080">c</text>
<text transform="translate(1801.81,727.04) scale(0.9638,0.9550)" font-size="63" text-anchor="middle" fill="#0000ff">b</text>
<text transform="translate(1782.13,1113.22) scale(1.0906,0.9596)" font-size="63" text-anchor="middle" fill="#ff0000">a</text>
<text transform="translate(1765.47,1650.60) scale(1.0235,0.9670)" font-size="68" text-anchor="middle" fill="#ff0000">a</text>
<text transform="translate(1775.80,2197.06) scale(0.9397,0.9388)" font-size="68" text-anchor="middle" fill="#0000ff">b</text>
<text transform="translate(1763.14,2457.22) scale(1.0224,0.9688)" font-size="68" text-anchor="middle" fill="#008080">c</text>
</svg>
</body></html>
